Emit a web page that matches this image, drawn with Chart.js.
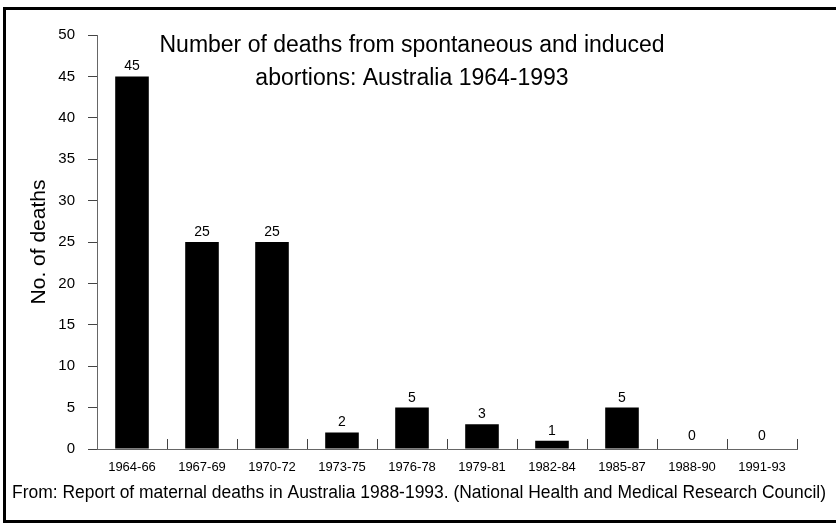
<!DOCTYPE html>
<html>
<head>
<meta charset="utf-8">
<script src="https://cdn.jsdelivr.net/npm/chart.js@4/dist/chart.umd.min.js"></script>
<style>
  html, body { margin: 0; padding: 0; background: #fff; }
  #wrap { width: 836px; height: 525px; position: relative; }
</style>
</head>
<body>
<div id="wrap"><canvas id="c" width="836" height="525"></canvas></div>
<script>
// ---- data ----
const categories = ['1964-66', '1967-69', '1970-72', '1973-75', '1976-78', '1979-81', '1982-84', '1985-87', '1988-90', '1991-93'];
const deaths = [45, 25, 25, 2, 5, 3, 1, 5, 0, 0];
const yMin = 0;
const yMax = 50;
const yStep = 5;
const titleLines = ['Number of deaths from spontaneous and induced', 'abortions: Australia 1964-1993'];
const yAxisTitle = 'No. of deaths';
const footerText = 'From: Report of maternal deaths in Australia 1988-1993. (National Health and Medical Research Council)';

const FONT = '"Liberation Sans", Arial, Helvetica, sans-serif';

const decorPlugin = {
  id: 'decor',
  beforeDraw(chart) {
    const ctx = chart.ctx;
    ctx.save();
    ctx.fillStyle = '#fff';
    ctx.fillRect(0, 0, chart.width, chart.height);
    ctx.restore();
  },
  afterDraw(chart) {
    const ctx = chart.ctx;
    const xs = chart.scales.x;
    const ys = chart.scales.y;
    ctx.save();

    // inner x ticks between categories (pointing up)
    ctx.strokeStyle = '#444';
    ctx.lineWidth = 1;
    const n = categories.length;
    const step = (xs.right - xs.left) / n;
    const y0 = ys.getPixelForValue(0);
    for (let i = 1; i <= n; i++) {
      const x = Math.round(xs.left + step * i) + 0.5;
      ctx.beginPath();
      ctx.moveTo(x, y0);
      ctx.lineTo(x, y0 - 10);
      ctx.stroke();
    }

    // value labels above bars
    const meta = chart.getDatasetMeta(0);
    ctx.fillStyle = '#000';
    ctx.font = '14px ' + FONT;
    ctx.textAlign = 'center';
    ctx.textBaseline = 'alphabetic';
    meta.data.forEach((bar, i) => {
      const v = deaths[i];
      const off = v === 0 ? 9 : 6;
      ctx.fillText(String(v), bar.x, bar.y - off);
    });

    // title
    ctx.font = '23px ' + FONT;
    ctx.textAlign = 'center';
    ctx.fillText(titleLines[0], 412, 52, 510);
    ctx.fillText(titleLines[1], 412, 85, 510);

    // footer
    ctx.font = '18px ' + FONT;
    ctx.textAlign = 'left';
    ctx.fillText(footerText, 12, 498, 814);

    // frame (no right edge)
    ctx.strokeStyle = '#000';
    ctx.lineWidth = 3;
    ctx.beginPath();
    ctx.moveTo(836, 8.5);
    ctx.lineTo(4.5, 8.5);
    ctx.lineTo(4.5, 521.5);
    ctx.lineTo(836, 521.5);
    ctx.stroke();

    ctx.restore();
  }
};

new Chart(document.getElementById('c'), {
  type: 'bar',
  data: {
    labels: categories,
    datasets: [{
      data: deaths,
      backgroundColor: '#000',
      borderWidth: 0,
      barPercentage: 0.48,
      categoryPercentage: 1.0
    }]
  },
  options: {
    responsive: false,
    devicePixelRatio: 1,
    animation: false,
    layout: { padding: { left: 0, right: 39, top: 35, bottom: 0 } },
    plugins: {
      legend: { display: false },
      title: { display: false },
      tooltip: { enabled: false }
    },
    scales: {
      x: {
        grid: { display: false },
        border: { display: true, color: '#666', width: 1 },
        ticks: {
          color: '#000',
          font: { family: FONT, size: 13 },
          padding: 3,
          maxRotation: 0,
          autoSkip: false
        },
        afterFit(s) { s.height = 76; }
      },
      y: {
        min: yMin,
        max: yMax,
        ticks: {
          stepSize: yStep,
          color: '#000',
          font: { family: FONT, size: 15 },
          padding: 13
        },
        grid: {
          drawOnChartArea: false,
          drawTicks: true,
          tickLength: 9,
          color: '#444'
        },
        border: { display: true, color: '#666', width: 1 },
        title: {
          display: true,
          text: yAxisTitle,
          color: '#000',
          font: { family: FONT, size: 21 },
          padding: { top: 27, bottom: 0 }
        },
        afterFit(s) { s.width = 97; }
      }
    }
  },
  plugins: [decorPlugin]
});
</script>
</body>
</html>
